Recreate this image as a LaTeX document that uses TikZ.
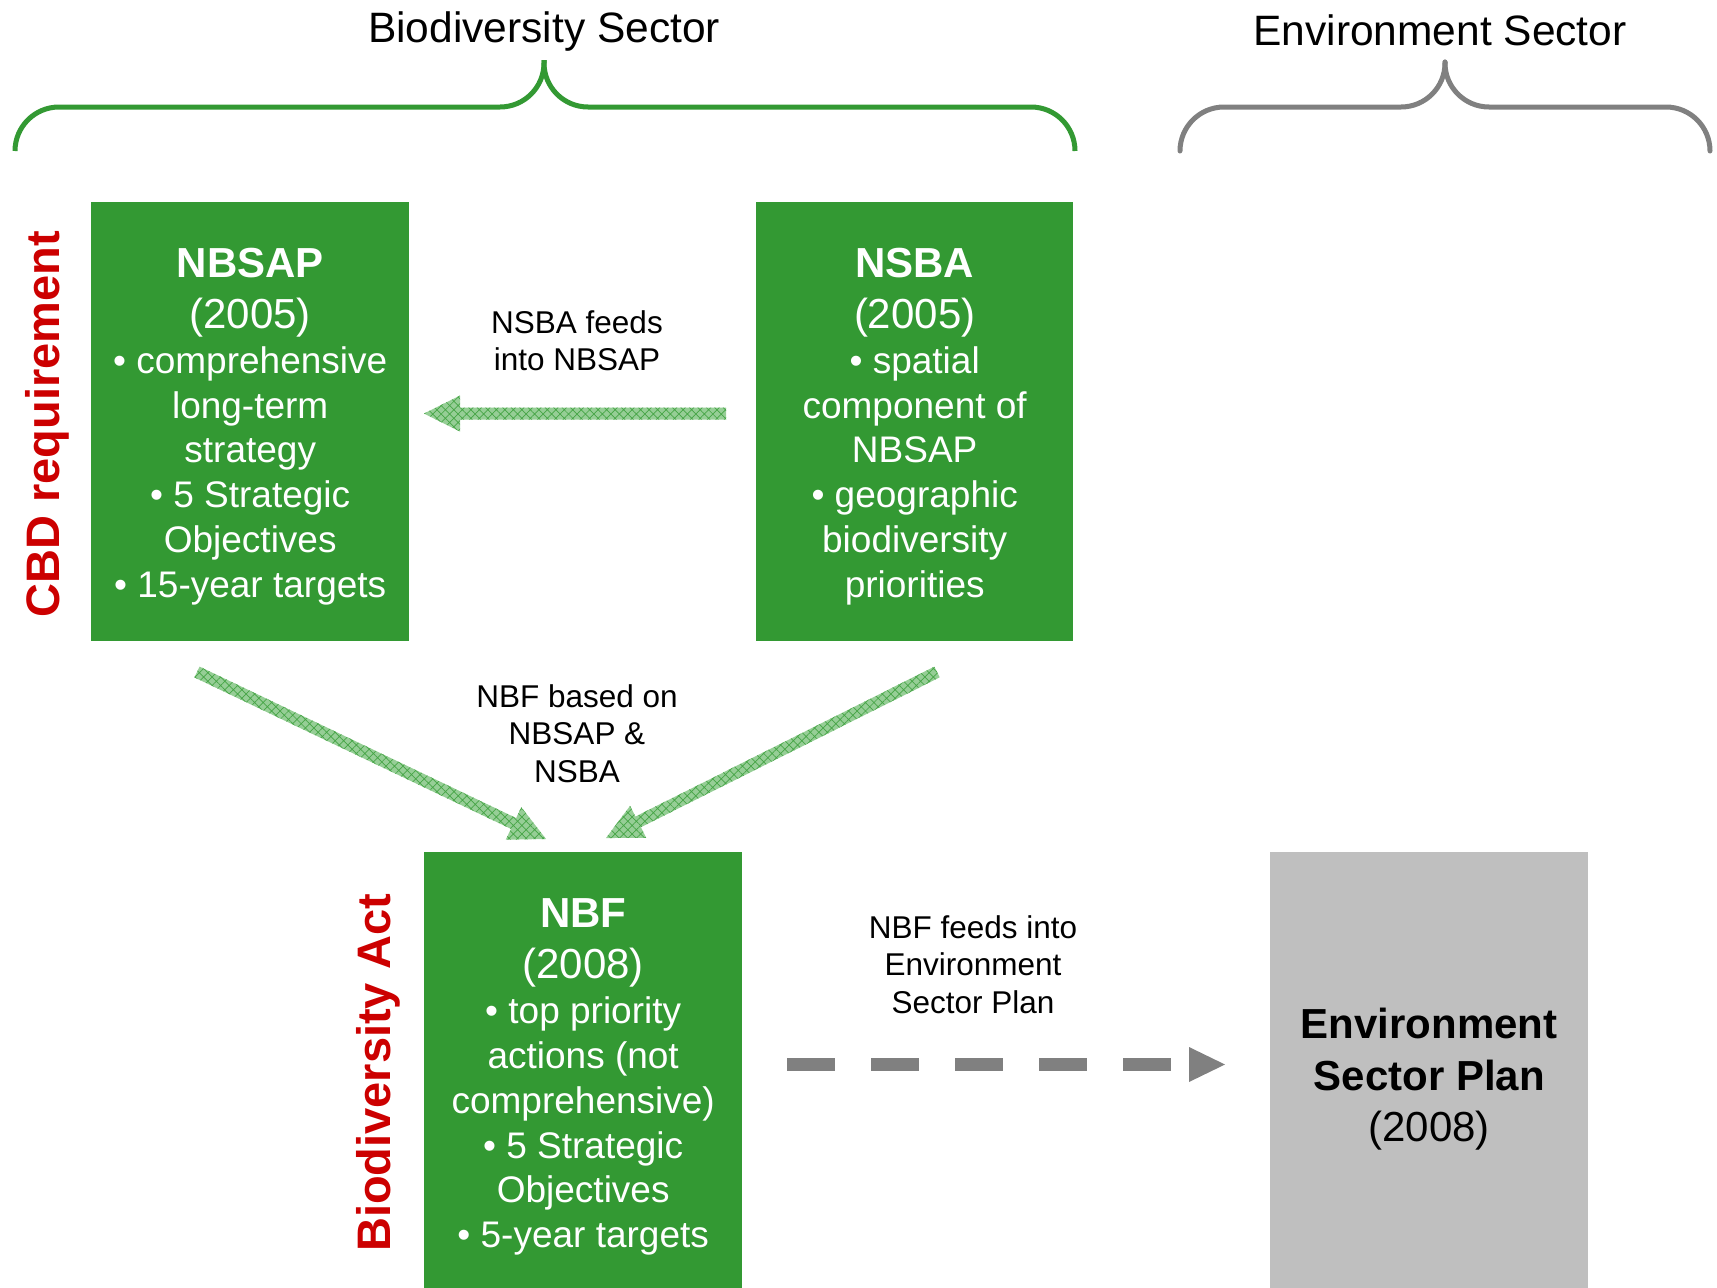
\documentclass[tikz,border=0pt]{standalone}
\usepackage{fontspec}
\setmainfont{Liberation Sans}
\usetikzlibrary{calc,patterns.meta}

\definecolor{boxgreen}{RGB}{51,153,51}
\definecolor{arrowfill}{RGB}{150,206,150}
\definecolor{arrowhatch}{RGB}{70,165,70}
\definecolor{actred}{RGB}{204,0,0}
\definecolor{plangray}{RGB}{191,191,191}
\definecolor{linkgray}{RGB}{128,128,128}

\newcommand\boxtitle{\fontsize{42}{50}\selectfont\bfseries}
\newcommand\boxyear{\fontsize{42}{50}\selectfont}

% Wide textured arrow from #1 (tail) to #2 (tip)
\newcommand\blockarrow[2]{%
  \coordinate (#1-#2-h) at ($(#2)!36pt!(#1)$);
  \path[blockarrowstyle]
    ($(#1)!6pt!90:(#2)$) -- ($(#1-#2-h)!6pt!90:(#2)$) -- ($(#1-#2-h)!18pt!90:(#2)$)
    -- (#2)
    -- ($(#1-#2-h)!18pt!-90:(#2)$) -- ($(#1-#2-h)!6pt!-90:(#2)$) -- ($(#1)!6pt!-90:(#2)$)
    -- cycle;}

\begin{document}
\begin{tikzpicture}[x=1pt,y=-1pt,
  greenbox/.style={fill=boxgreen, draw=none, inner sep=0, anchor=north west},
  graybox/.style={fill=plangray, draw=none, inner sep=0, anchor=north west},
  boxtext/.style={text=white, align=center, inner sep=0, anchor=north,
    font=\fontsize{37}{44.8}\selectfont},
  plantext/.style={text=black, align=center, inner sep=0, anchor=north,
    font=\fontsize{37}{51.5}\selectfont},
  linklabel/.style={text=black, align=center, inner sep=0, anchor=north,
    font=\fontsize{31.5}{37.5}\selectfont},
  sectortitle/.style={text=black, inner sep=0, anchor=north,
    font=\fontsize{42.5}{50}\selectfont},
  sidelabel/.style={text=actred, inner sep=0, anchor=base, rotate=90,
    font=\fontsize{47}{56}\selectfont\bfseries},
  brace/.style={line width=5pt, rounded corners=44pt},
  blockarrowstyle/.style={fill=arrowfill,
    postaction={pattern={Hatch[angle=45,distance=6pt,line width=0.7pt]},
                pattern color=arrowhatch}},
  dashlink/.style={draw=linkgray, line width=12.5pt, dash pattern=on 48pt off 36pt},
]
\useasboundingbox (0,0) rectangle (1717,1288);

% sector headings and braces
\node[sectortitle] (biosector) at (544,12) {Biodiversity Sector};
\node[sectortitle] (envsector) at (1440,15) {Environment Sector};

\draw[brace, draw=boxgreen] (544,60) -- (544,107) -- (15,107) -- (15,151);
\draw[brace, draw=boxgreen] (544,60) -- (544,107) -- (1075,107) -- (1075,151);
\draw[brace, draw=linkgray, line cap=round] (1445,62) -- (1445,107) -- (1180,107) -- (1180,151);
\draw[brace, draw=linkgray, line cap=round] (1445,62) -- (1445,107) -- (1710,107) -- (1710,151);

% boxes
\node[greenbox, minimum width=318pt, minimum height=439pt] (nbsap) at (91,202) {};
\node[greenbox, minimum width=317pt, minimum height=439pt] (nsba) at (756,202) {};
\node[greenbox, minimum width=318pt, minimum height=436pt] (nbf) at (424,852) {};
\node[graybox, minimum width=318pt, minimum height=436pt] (esp) at (1270,852) {};

\node[boxtext] (nbsap-text) at (nbsap.north |- 0,248) {{\boxtitle NBSAP}\\[6.2pt]
  {\boxyear (2005)}\\ • comprehensive\\ long-term\\ strategy\\ • 5 Strategic\\ Objectives\\ • 15-year targets};
\node[boxtext] (nsba-text) at (nsba.north |- 0,248) {{\boxtitle NSBA}\\[6.2pt]
  {\boxyear (2005)}\\ • spatial\\ component of\\ NBSAP\\ • geographic\\ biodiversity\\ priorities};
\node[boxtext] (nbf-text) at (nbf.north |- 0,898) {{\boxtitle NBF}\\[7pt]
  {\boxyear (2008)}\\ • top priority\\ actions (not\\ comprehensive)\\ • 5 Strategic\\ Objectives\\ • 5-year targets};
\node[plantext] (esp-text) at (esp.north |- 0,1008) {{\boxtitle Environment}\\
  {\boxtitle Sector Plan}\\ {\boxyear (2008)}};

% side labels
\node[sidelabel] (cbd) at (59,424) {CBD requirement};
\node[sidelabel] (bioact) at (390,1073) {Biodiversity Act};

% link labels
\node[linklabel] (feeds1) at (577,310) {NSBA feeds\\ into NBSAP};
\node[linklabel] (basedon) at (577,684) {NBF based on\\ NBSAP \&\\ NSBA};
\node[linklabel] (feeds2) at (973,915) {NBF feeds into\\ Environment\\ Sector Plan};

% textured arrows
\coordinate (nsba-out) at (726,413.5);
\coordinate (nbsap-in) at (424,413.5);
\coordinate (nbsap-out) at (197,672);
\coordinate (nbf-in-l) at (546,839);
\coordinate (nsba-out2) at (937,672);
\coordinate (nbf-in-r) at (606,838);
\blockarrow{nsba-out}{nbsap-in}
\blockarrow{nbsap-out}{nbf-in-l}
\blockarrow{nsba-out2}{nbf-in-r}

% dashed link to the environment plan
\coordinate (nbf-out) at (787,1064.5);
\coordinate (esp-head) at (1189,1064.5);
\coordinate (esp-in) at (1225,1064.5);
\draw[dashlink] (nbf-out) -- (esp-head);
\fill[linkgray] (esp-head) ++(0,-17.5) -- (esp-in) -- ($(esp-head)+(0,17.5)$) -- cycle;
\end{tikzpicture}
\end{document}
